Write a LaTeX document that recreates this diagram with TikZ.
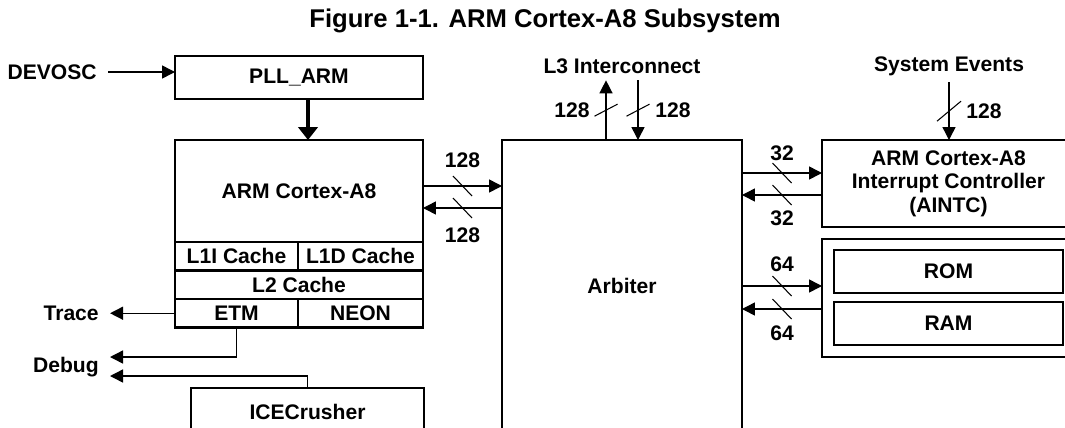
\documentclass[tikz,border=0pt]{standalone}
\usepackage{fontspec}
\setmainfont{Liberation Sans}
\usetikzlibrary{arrows.meta,positioning}

\begin{document}
\begin{tikzpicture}[x=0.02cm, y=-0.02cm,
  font=\bfseries\fontsize{12}{13.3}\selectfont,
  box/.style={draw, line width=1.5pt, inner sep=0pt, outer sep=0pt, align=center},
  cell/.style={box, minimum height=0.57cm},
  sig/.style={line width=0.8pt, -{Triangle[length=7.4pt,width=7.4pt]}},
  clk/.style={line width=2.2pt, -{Triangle[length=7.4pt,width=11pt]}},
  slash/.style={line width=0.6pt},
  lbl/.style={inner xsep=0.22cm, inner ysep=0.13cm}]
\useasboundingbox (0,0) rectangle (1065,427);
\clip (0,0) rectangle (1065,427);

\node[font=\bfseries\fontsize{14.6}{16}\selectfont] (title) at (545,21) {Figure 1-1. ARM Cortex-A8 Subsystem};

% left column
\node[box, minimum width=4.96cm, minimum height=0.86cm] (pll) at (299,77.5) {PLL\_ARM};
\node[lbl, anchor=east] (devosc) at (108,72) {DEVOSC};

\node[box, minimum width=4.96cm, minimum height=2.04cm] (cpu) at (299,191) {ARM Cortex-A8};
\node[cell, minimum width=2.46cm, anchor=north west] (l1i) at (cpu.south west) {L1I Cache};
\node[cell, minimum width=2.5cm, right=0pt of l1i] (l1d) {L1D Cache};
\node[cell, minimum width=4.96cm, anchor=north west] (l2) at (l1i.south west) {L2 Cache};
\node[cell, minimum width=2.46cm, anchor=north west] (etm) at (l2.south west) {ETM};
\node[cell, minimum width=2.5cm, right=0pt of etm] (neon) {NEON};

\node[lbl, left=1.3cm of etm] (trace) {Trace};
\node[lbl, anchor=east] (debug) at (110,367) {Debug};
\node[box, minimum width=4.66cm, minimum height=0.96cm] (ice) at (307.5,412) {ICECrusher};

% middle
\node[box, minimum width=4.8cm, minimum height=5.84cm] (arb) at (622,286) {Arbiter};
\node[lbl] (l3) at (622,66) {L3 Interconnect};

% right column
\node[box, minimum width=5.06cm, minimum height=1.74cm] (aintc) at (948.5,183.5) {ARM Cortex-A8\\Interrupt Controller\\(AINTC)};
\node[lbl] (sys) at (949,66) {System Events};
\node[box, minimum width=5.06cm, minimum height=2.36cm] (mem) at (948.5,298) {};
\node[box, minimum width=4.58cm, minimum height=0.86cm] (rom) at (948.5,271.5) {ROM};
\node[box, minimum width=4.58cm, minimum height=0.86cm] (ram) at (948.5,323.5) {RAM};

% connectors
\draw[sig] (devosc.east) -- (devosc.east -| pll.west);
\draw[clk] ([xshift=0.18cm]pll.south) -- ([xshift=0.18cm]cpu.north);

\draw[sig] (cpu.east |- 0,186) -- (arb.west |- 0,186) coordinate[midway] (m1) node[midway, yshift=0.52cm] (w1) {128};
\draw[sig] (arb.west |- 0,208) -- (cpu.east |- 0,208) coordinate[midway] (m2) node[midway, yshift=-0.54cm] (w2) {128};

\draw[sig] ([xshift=-0.32cm]arb.north) -- ([xshift=-0.32cm]l3.south) coordinate[midway] (m3) node[midway, xshift=-0.68cm] (w3) {128};
\draw[sig] ([xshift=0.32cm]l3.south) -- ([xshift=0.32cm]arb.north) coordinate[midway] (m4) node[midway, xshift=0.7cm] (w4) {128};
\draw[sig] (sys.south) -- (sys.south |- aintc.north) coordinate[midway] (m5) node[midway, xshift=0.7cm] (w5) {128};

\draw[sig] (arb.east |- 0,173) -- (aintc.west |- 0,173) coordinate[midway] (m6) node[midway, yshift=0.4cm] (w6) {32};
\draw[sig] (aintc.west |- 0,195) -- (arb.east |- 0,195) coordinate[midway] (m7) node[midway, yshift=-0.46cm] (w7) {32};
\draw[sig] (arb.east |- 0,286) -- (mem.west |- 0,286) coordinate[midway] (m8) node[midway, yshift=0.44cm] (w8) {64};
\draw[sig] (mem.west |- 0,309) -- (arb.east |- 0,309) coordinate[midway] (m9) node[midway, yshift=-0.48cm] (w9) {64};

\draw[sig] (etm.west) -- (trace.east);
\draw[sig] (etm.south) |- ([yshift=0.2cm]debug.east);
\draw[sig] (ice.north) |- ([yshift=-0.18cm]debug.east);

% bus width marks
\foreach \m in {m1,m2,m6,m7,m8,m9}
  \draw[slash] (\m) +(-9.5,-10) -- +(9.5,10);
\foreach \m in {m3,m4}
  \draw[slash] (\m) +(-11.5,6) -- +(11.5,-6);
\draw[slash] (m5) +(-12,10) -- +(12,-10);
\end{tikzpicture}
\end{document}
